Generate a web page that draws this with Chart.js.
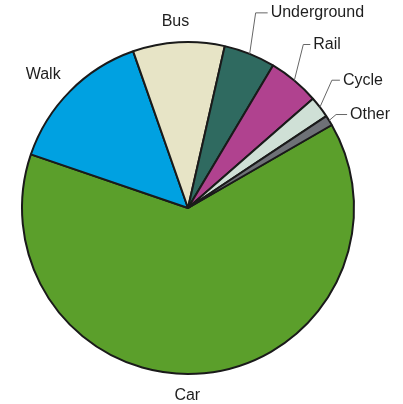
<!DOCTYPE html>
<html>
<head>
<meta charset="utf-8">
<script src="https://cdn.jsdelivr.net/npm/chart.js@4/dist/chart.umd.min.js"></script>
<style>
  html, body { margin: 0; padding: 0; background: #fff; }
  #wrap { width: 403px; height: 404px; position: relative; }
</style>
</head>
<body>
<div id="wrap"><canvas id="pieChart"></canvas></div>
<script>
// share of journeys by mode (%)
const categories = ['Car', 'Walk', 'Bus', 'Underground', 'Rail', 'Cycle', 'Other'];
const shares = [63.5, 14.4, 8.9, 5.0, 5.0, 2.1, 1.0];
const sliceColors = ['#5b9f2b', '#00a1e1', '#e7e4c6', '#2f6a60', '#b0428f', '#cfe0d6', '#6e7177'];

// how each label sits: plain labels go outside the rim, small slices get a leader line
const labelStyle = {
  Car: { dist: 22, dx: -19, dy: 0 },
  Walk: { dist: 31, dx: -5, dy: 5 },
  Bus: { dist: 21, dx: -2, dy: 0 },
  Underground: { leader: [6, -41], tail: 12 },
  Rail: { leader: [9, -36], tail: 7 },
  Cycle: { leader: [12, -27], tail: 8 },
  Other: { leader: [7, -6], tail: 11 }
};

const sliceLabels = {
  id: 'sliceLabels',
  afterDatasetsDraw(chart) {
    const ctx = chart.ctx;
    const arcs = chart.getDatasetMeta(0).data;
    ctx.save();
    ctx.font = '16px "Liberation Sans", Arial, sans-serif';
    ctx.fillStyle = '#1e1e1e';
    ctx.textBaseline = 'middle';
    arcs.forEach((arc, i) => {
      const p = arc.getProps(['x', 'y', 'outerRadius', 'startAngle', 'endAngle'], true);
      const mid = (p.startAngle + p.endAngle) / 2;
      const s = labelStyle[categories[i]];
      if (s.leader) {
        const x0 = p.x + p.outerRadius * Math.cos(mid);
        const y0 = p.y + p.outerRadius * Math.sin(mid);
        const x1 = x0 + s.leader[0], y1 = y0 + s.leader[1];
        const x2 = x1 + s.tail;
        ctx.beginPath();
        ctx.strokeStyle = '#666';
        ctx.lineWidth = 1;
        ctx.moveTo(x0, y0);
        ctx.lineTo(x1, y1);
        ctx.lineTo(x2, y1);
        ctx.stroke();
        ctx.textAlign = 'left';
        ctx.fillText(categories[i], x2 + 3, y1);
      } else {
        const r = p.outerRadius + s.dist;
        ctx.textAlign = 'center';
        ctx.fillText(categories[i], p.x + r * Math.cos(mid) + s.dx, p.y + r * Math.sin(mid) + s.dy);
      }
    });
    ctx.restore();
  }
};

new Chart(document.getElementById('pieChart'), {
  type: 'pie',
  data: {
    labels: categories,
    datasets: [{
      data: shares,
      backgroundColor: sliceColors,
      borderColor: '#1a1a1a',
      borderWidth: 2
    }]
  },
  options: {
    responsive: true,
    maintainAspectRatio: false,
    animation: false,
    rotation: 60,
    layout: { padding: { left: 21, right: 48, top: 41, bottom: 29 } },
    plugins: {
      legend: { display: false },
      tooltip: { enabled: false }
    }
  },
  plugins: [sliceLabels]
});
</script>
</body>
</html>
